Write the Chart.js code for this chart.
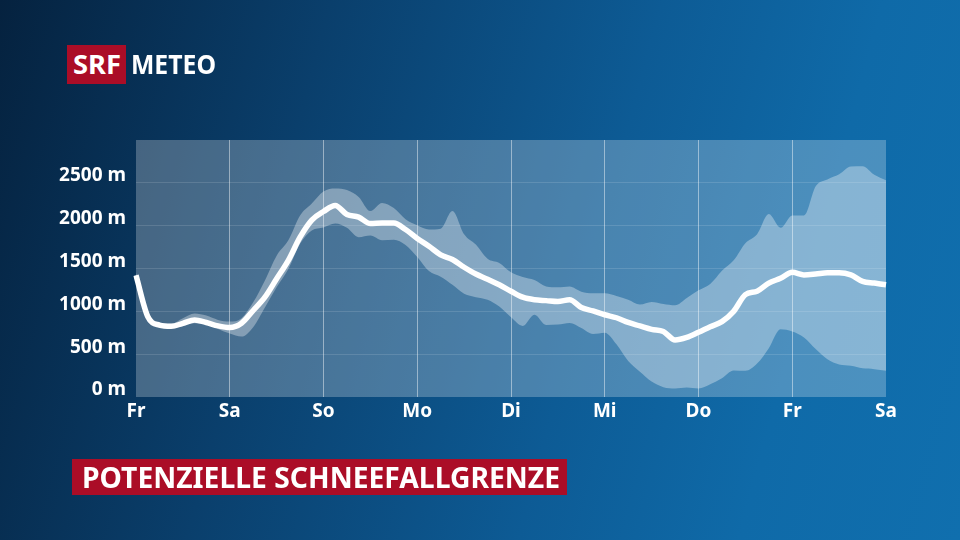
<!DOCTYPE html>
<html>
<head>
<meta charset="utf-8">
<script src="https://cdn.jsdelivr.net/npm/chart.js@4"></script>
<style>
  html, body { margin: 0; padding: 0; }
  body {
    width: 960px; height: 540px; overflow: hidden; position: relative;
    background: linear-gradient(105deg, #05223f 0%, #0a3f6c 30%, #0d5b95 60%, #0f6aa8 80%, #106fae 100%);
    font-family: 'Noto Sans', sans-serif;
  }
  #chart { position: absolute; left: 0; top: 0; }
  .box { position: absolute; background: #ab0d27; color: #fff; font-weight: 700; overflow: hidden; }
  .txt { position: absolute; color: #fff; font-weight: 700; white-space: nowrap; transform-origin: left center; }
</style>
</head>
<body>
<canvas id="chart" width="960" height="540"></canvas>
<div class="box" style="left:67px;top:45px;width:59px;height:39px;"></div>
<span class="txt" id="srf" style="left:73px;top:45px;font-size:26px;line-height:39px;">SRF</span>
<span class="txt" id="meteo" style="left:131px;top:45px;font-size:26px;line-height:39px;">METEO</span>
<div class="box" style="left:72px;top:459px;width:495px;height:36px;"></div>
<span class="txt" id="title" style="left:82px;top:459px;font-size:28px;line-height:36px;">POTENZIELLE SCHNEEFALLGRENZE</span>
<script>
// Tagesbeschriftungen und 3-Stunden-Schritte
const days = ['Fr', 'Sa', 'So', 'Mo', 'Di', 'Mi', 'Do', 'Fr', 'Sa'];
const hoursPerDay = ['00', '03', '06', '09', '12', '15', '18', '21'];

// Schneefallgrenze (Mittel) in m
const mittel = [
  1420, 940, 840, 825, 860, 900, 870, 830,
  810, 860, 1010, 1165, 1380, 1595, 1865, 2065,
  2165, 2235, 2130, 2100, 2025, 2030, 2030, 1955,
  1850, 1760, 1660, 1605, 1515, 1435, 1375, 1310,
  1235, 1165, 1135, 1125, 1115, 1135, 1045, 1005,
  960, 925, 870, 830, 790, 765, 665, 695,
  755, 820, 880, 1000, 1195, 1235, 1330, 1385,
  1455, 1425, 1435, 1450, 1450, 1425, 1350, 1330,
  1310
];

// obere Grenze der Bandbreite
const oben = [
  1450, 960, 860, 855, 920, 975, 950, 900,
  880, 920, 1105, 1360, 1650, 1830, 2120, 2260,
  2400, 2435, 2415, 2335, 2170, 2265, 2205, 2075,
  2005, 1955, 1965, 2170, 1900, 1780, 1615, 1565,
  1455, 1400, 1365, 1290, 1280, 1290, 1230, 1210,
  1210, 1180, 1135, 1080, 1110, 1085, 1070, 1155,
  1245, 1320, 1475, 1595, 1795, 1900, 2135, 1975,
  2120, 2120, 2460, 2540, 2600, 2690, 2695, 2595,
  2530
];

// untere Grenze der Bandbreite
const unten = [
  1400, 925, 825, 800, 830, 860, 845, 795,
  740, 705, 815, 1045, 1280, 1495, 1790, 1945,
  1980, 2025, 1975, 1865, 1885, 1830, 1835, 1775,
  1635, 1470, 1405, 1310, 1205, 1165, 1135, 1055,
  930, 830, 960, 840, 845, 865, 805, 735,
  750, 615, 420, 295, 180, 115, 100, 110,
  100, 150, 220, 310, 305, 390, 570, 790,
  765, 695, 560, 440, 380, 365, 335, 325,
  305
];

const yTicks = [0, 500, 1000, 1500, 2000, 2500];

const labels = [];
days.forEach((d, i) => {
  if (i < days.length - 1) hoursPerDay.forEach(h => labels.push(d + ' ' + h));
  else labels.push(d + ' 00');
});

// Hintergrund der Grafikfläche
const plotBg = {
  id: 'plotBg',
  beforeDraw(chart) {
    const { ctx, chartArea: a } = chart;
    ctx.save();
    ctx.fillStyle = 'rgba(255,255,255,0.25)';
    ctx.fillRect(a.left, a.top, a.right - a.left, a.bottom - a.top);
    ctx.restore();
  }
};

Chart.defaults.font.family = "'Noto Sans', sans-serif";

new Chart(document.getElementById('chart'), {
  type: 'line',
  data: {
    labels: labels,
    datasets: [
      {
        data: mittel,
        borderColor: '#ffffff',
        borderWidth: 5.5,
        pointRadius: 0,
        fill: false,
        cubicInterpolationMode: 'monotone',
        order: 0
      },
      {
        data: oben,
        borderWidth: 0,
        borderColor: 'rgba(0,0,0,0)',
        backgroundColor: 'rgba(255,255,255,0.33)',
        pointRadius: 0,
        fill: '+1',
        cubicInterpolationMode: 'monotone',
        order: 1
      },
      {
        data: unten,
        borderWidth: 0,
        borderColor: 'rgba(0,0,0,0)',
        pointRadius: 0,
        fill: false,
        cubicInterpolationMode: 'monotone',
        order: 2
      }
    ]
  },
  options: {
    responsive: false,
    animation: false,
    layout: { padding: { left: 0, right: 74, top: 140, bottom: 103 } },
    plugins: { legend: { display: false }, tooltip: { enabled: false } },
    scales: {
      x: {
        type: 'category',
        afterFit: s => { s.height = 40; },
        border: { display: false },
        grid: {
          drawTicks: false,
          color: c => (c.index % 8 === 0 && c.index > 0 && c.index < labels.length - 1) ? 'rgba(255,255,255,0.45)' : 'rgba(0,0,0,0)',
          lineWidth: 1
        },
        ticks: {
          autoSkip: false,
          maxRotation: 0,
          padding: 3,
          color: '#ffffff',
          font: { size: 19, weight: 'bold' },
          callback: (v, i) => i % 8 === 0 ? days[i / 8] : ''
        }
      },
      y: {
        min: 0,
        max: 3000,
        afterFit: s => { s.width = 136; },
        afterBuildTicks: s => { s.ticks = yTicks.concat([3000]).map(v => ({ value: v })); },
        border: { display: false },
        grid: {
          drawTicks: false,
          color: c => (c.tick && c.tick.value > 0 && c.tick.value < 3000) ? 'rgba(255,255,255,0.13)' : 'rgba(0,0,0,0)'
        },
        ticks: {
          padding: 10,
          labelOffset: -7,
          color: '#ffffff',
          font: { size: 19, weight: 'bold' },
          callback: v => yTicks.includes(v) ? v + ' m' : ''
        }
      }
    }
  },
  plugins: [plotBg]
});

// Schriftbreite an das Original anpassen
const fit = (id, w) => {
  const el = document.getElementById(id);
  el.style.transform = `scaleX(${w / el.getBoundingClientRect().width})`;
};
fit('srf', 48);
fit('meteo', 85);
fit('title', 478);
</script>
</body>
</html>
